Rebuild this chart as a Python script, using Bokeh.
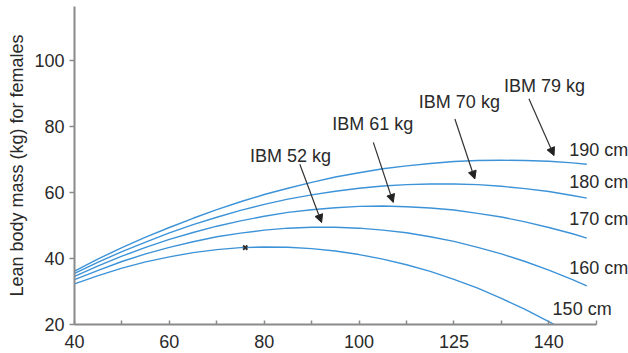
from bokeh.plotting import figure
from bokeh.models import FixedTicker, Range1d, Label, Arrow, NormalHead
from bokeh.embed import file_html
from bokeh.resources import INLINE

# ---- data ----
weight_kg = [40, 45, 50, 55, 60, 65, 70, 75, 80, 85, 90, 95, 100, 105, 110, 115,
             120, 125, 130, 135, 140, 145, 148]
lbm_150cm = [32.3, 34.8, 37.1, 39.0, 40.5, 41.8, 42.7, 43.3, 43.5, 43.4, 43.0, 42.3, 41.2, 39.8,
             38.1, 36.1, 33.7, 31.0, 27.9, 24.6, 20.9, 16.9, 14.3]
lbm_160cm = [33.6, 36.4, 39.1, 41.4, 43.4, 45.1, 46.6, 47.7, 48.6, 49.2, 49.5, 49.5, 49.2, 48.6,
             47.8, 46.6, 45.2, 43.4, 41.4, 39.1, 36.5, 33.6, 31.7]
lbm_170cm = [34.6, 37.8, 40.7, 43.4, 45.8, 47.9, 49.8, 51.4, 52.8, 54.0, 54.8, 55.4, 55.8, 55.9,
             55.7, 55.3, 54.7, 53.7, 52.6, 51.1, 49.4, 47.5, 46.2]
lbm_180cm = [35.5, 38.9, 42.1, 45.0, 47.8, 50.3, 52.5, 54.6, 56.4, 58.0, 59.3, 60.4, 61.3, 62.0,
             62.4, 62.6, 62.6, 62.4, 61.9, 61.2, 60.3, 59.1, 58.3]
lbm_190cm = [36.2, 39.9, 43.3, 46.5, 49.4, 52.2, 54.8, 57.2, 59.4, 61.3, 63.1, 64.7, 66.0, 67.2,
             68.1, 68.8, 69.4, 69.7, 69.8, 69.7, 69.5, 69.0, 68.6]
series = [lbm_150cm, lbm_160cm, lbm_170cm, lbm_180cm, lbm_190cm]

height_labels = ["150 cm", "160 cm", "170 cm", "180 cm", "190 cm"]
height_label_x = [140.8, 144.3, 144.3, 144.3, 144.3]
height_label_y = [24.6, 37.2, 51.9, 63.3, 72.9]

ibm_labels = ["IBM 52 kg", "IBM 61 kg", "IBM 70 kg", "IBM 79 kg"]
ibm_label_x = [77.0, 94.35, 112.6, 130.55]
ibm_label_y = [71.2, 80.9, 87.4, 92.4]
arrow_x_start = [87.5, 103.0, 120.2, 135.8]
arrow_y_start = [68.6, 75.2, 82.3, 88.4]
arrow_x_end = [92.1, 107.2, 124.4, 141.1]
arrow_y_end = [50.9, 57.0, 64.1, 71.2]

marker_weight = [76]
marker_lbm = [43.3]

x_ticks = [40, 50, 60, 70, 80, 90, 100, 110, 120, 130, 140, 150]
x_tick_labels = ["40", "", "60", "", "80", "", "100", "", "125", "", "140", ""]
y_ticks = [20, 40, 60, 80, 100]

# ---- styling ----
FONT = "Liberation Sans"
TXT = "#2a2a2a"
BLUE = "#3d93d8"
AXIS = "#8a8a8a"
FS = "18px"

p = figure(width=628, height=353, output_backend="svg", toolbar_location=None,
           x_range=Range1d(40, 156.8), y_range=Range1d(20, 116.4),
           min_border_top=6, min_border_right=0, min_border_left=74, min_border_bottom=29)
p.outline_line_color = None
p.grid.visible = False
p.background_fill_color = "white"

for s in series:
    p.line(weight_kg, s, line_color=BLUE, line_width=1.4)

p.scatter(marker_weight, marker_lbm, marker="x", size=6, line_color="#333333", line_width=2)

# axes
xa = p.xaxis[0]
xa.ticker = FixedTicker(ticks=x_ticks)
xa.major_label_overrides = {t: l for t, l in zip(x_ticks, x_tick_labels)}
xa.bounds = (40, 150)
xa.minor_tick_line_color = None
xa.major_tick_in = 4
xa.major_tick_out = 0
xa.major_label_standoff = 10

ya = p.yaxis[0]
ya.ticker = FixedTicker(ticks=y_ticks)
ya.bounds = (20, 116.4)
ya.minor_tick_line_color = None
ya.major_tick_in = 0
ya.major_tick_out = 5
ya.major_label_standoff = 5
ya.axis_label = "Lean body mass (kg) for females"
ya.axis_label_standoff = 4

for ax in (xa, ya):
    ax.axis_line_color = AXIS
    ax.axis_line_width = 2
    ax.major_tick_line_color = AXIS
    ax.major_tick_line_width = 1.5
    ax.major_label_text_font = FONT
    ax.major_label_text_font_size = FS
    ax.major_label_text_color = TXT
    ax.axis_label_text_font = FONT
    ax.axis_label_text_font_size = FS
    ax.axis_label_text_font_style = "normal"
    ax.axis_label_text_color = TXT

for t, x, y in zip(height_labels, height_label_x, height_label_y):
    p.add_layout(Label(x=x, y=y, text=t, text_font=FONT, text_font_size=FS,
                       text_color=TXT, text_baseline="middle", text_align="left"))

for t, x, y in zip(ibm_labels, ibm_label_x, ibm_label_y):
    p.add_layout(Label(x=x, y=y, text=t, text_font=FONT, text_font_size=FS,
                       text_color=TXT, text_baseline="middle", text_align="left"))

for xs, ys, xe, ye in zip(arrow_x_start, arrow_y_start, arrow_x_end, arrow_y_end):
    p.add_layout(Arrow(x_start=xs, y_start=ys, x_end=xe, y_end=ye,
                       line_color="#333333", line_width=1.2,
                       end=NormalHead(size=8, fill_color="#222222", line_color="#222222", line_width=1)))

open("out.html", "w").write(file_html(p, INLINE))
